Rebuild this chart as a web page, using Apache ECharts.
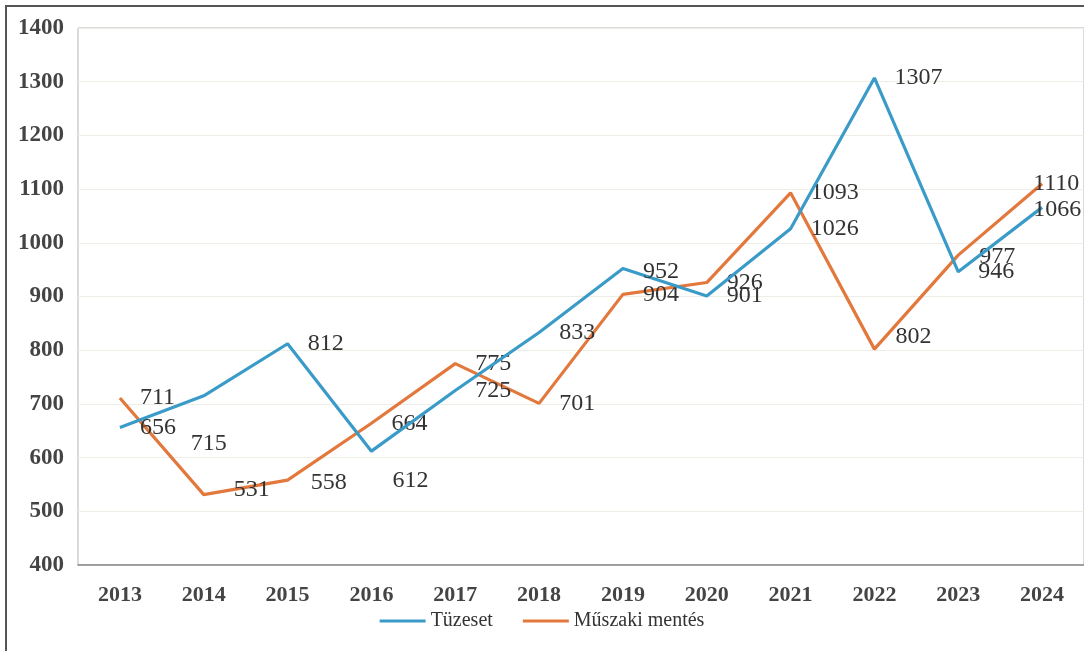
<!DOCTYPE html>
<html>
<head>
<meta charset="utf-8">
<script src="https://cdn.jsdelivr.net/npm/echarts@6/dist/echarts.min.js"></script>
<style>
html,body{margin:0;padding:0;background:#fff;}
#chart{width:1084px;height:651px;}
</style>
</head>
<body>
<div id="chart"></div>
<script>
const years = ['2013','2014','2015','2016','2017','2018','2019','2020','2021','2022','2023','2024'];
const tuzeset = [656, 715, 812, 612, 725, 833, 952, 901, 1026, 1307, 946, 1066];
const muszaki = [711, 531, 558, 664, 775, 701, 904, 926, 1093, 802, 977, 1110];
const seriesNames = ['Tüzeset', 'Műszaki mentés'];

// label offsets (style only) per index
const blueOffsets = {1:[-33,48],3:[1,30],6:[0,3],11:[-29,2]};
const orangeOffsets = {1:[10,-5],2:[3,3],9:[1,-12],10:[1,2],11:[-29,0]};

function build(values, offsets){
  return values.map((v,i)=> offsets[i] ? {value:v, label:{offset:offsets[i]}} : v);
}

const chart = echarts.init(document.getElementById('chart'));
const serif = '"Liberation Serif", "DejaVu Serif", serif';
const labelStyle = {show:true, position:'right', distance:20, fontFamily:serif, fontSize:24, color:'#333'};
chart.setOption({
  animation:false,
  backgroundColor:'#fff',
  graphic:[{
    type:'polyline', silent:true,
    shape:{points:[[6,660],[6,6],[1090,6]]},
    style:{stroke:'#555', lineWidth:2, fill:null}
  }],
  grid:{left:78, top:28, width:1008, height:537, show:true, borderColor:'#b5b5b5', borderWidth:1},
  legend:{
    top:606, left:'center',
    itemWidth:46, itemHeight:3, icon:'rect', itemGap:30,
    textStyle:{fontFamily:serif, fontSize:20, color:'#333'},
    data:seriesNames
  },
  xAxis:{
    type:'category', data:years, boundaryGap:true,
    axisLine:{lineStyle:{color:'#888', width:1.5}},
    axisTick:{show:false},
    axisLabel:{fontFamily:serif, fontSize:22, fontWeight:'bold', color:'#444', margin:19}
  },
  yAxis:{
    type:'value', min:400, max:1400, interval:100,
    axisLine:{show:false}, axisTick:{show:false},
    axisLabel:{fontFamily:serif, fontSize:23, fontWeight:'bold', color:'#444', margin:14,
      formatter:function(v){return String(v);}},
    splitLine:{lineStyle:{color:'#eeeee6', width:1}}
  },
  series:[
    {
      name:seriesNames[0], type:'line', data:build(tuzeset, blueOffsets),
      symbol:'circle', symbolSize:0.1, showSymbol:true,
      lineStyle:{color:'#3a9bc8', width:3.2}, itemStyle:{color:'#3a9bc8'},
      label:labelStyle,
      z:3
    },
    {
      name:seriesNames[1], type:'line', data:build(muszaki, orangeOffsets),
      symbol:'circle', symbolSize:0.1, showSymbol:true,
      lineStyle:{color:'#e3783c', width:3.2}, itemStyle:{color:'#e3783c'},
      label:labelStyle,
      z:2
    }
  ]
});
</script>
</body>
</html>
